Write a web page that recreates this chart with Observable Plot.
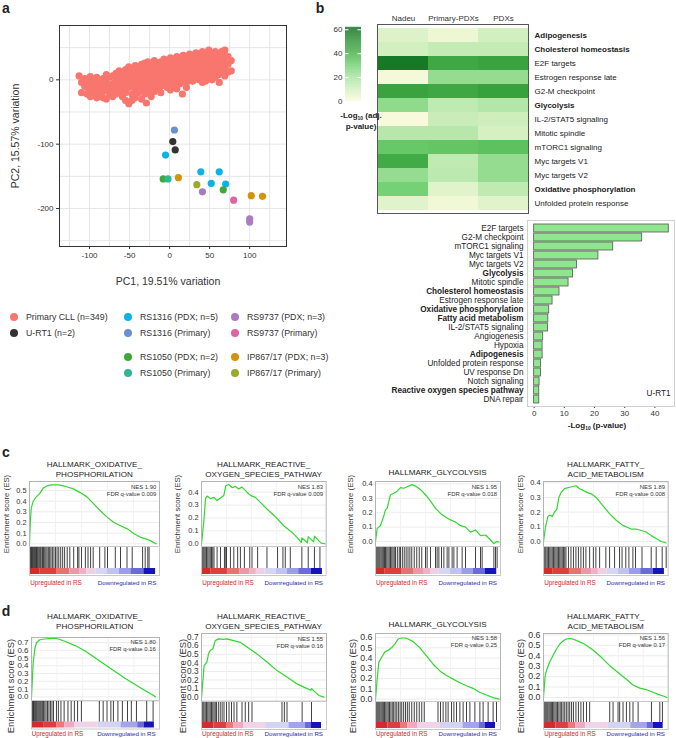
<!DOCTYPE html>
<html><head><meta charset="utf-8">
<script src="https://cdn.jsdelivr.net/npm/d3@7"></script>
<script src="https://cdn.jsdelivr.net/npm/@observablehq/plot@0.6"></script>
<style>
body{margin:0;background:#fff;}
#fig{position:relative;width:676px;height:738px;overflow:hidden;background:#fff;font-family:"Liberation Sans",Arial,Helvetica,sans-serif;color:#222;}
.t{position:absolute;white-space:nowrap;line-height:1;}
.t sub{font-size:0.62em;vertical-align:-0.25em;}
</style></head><body><div id="fig"></div>
<script>
// ---------------- DATA ----------------
// Panel a: PCA
const pcaGroups = ["Primary CLL (n=349)","U-RT1 (n=2)","RS1316 (PDX; n=5)","RS1316 (Primary)","RS9737 (PDX; n=3)","RS9737 (Primary)","RS1050 (PDX; n=2)","RS1050 (Primary)","IP867/17 (PDX; n=3)","IP867/17 (Primary)"];
const pcaColors = ["#f8766d","#333333","#0db3e6","#6a8fd2","#a97cc2","#df64a6","#3ea83a","#2fb696","#d5920c","#9aab2c"];
const pcaXTicks = [-100,-50,0,50,100];
const pcaYTicks = [-200,-100,0];
const cllPoints = [[-113,6],[-110,-4],[-110,-20],[-106,-10],[-106,2],[-103,-22],[-103,-12],[-103,-2],
[-99,-18],[-99,-6],[-99,5],[-99,-26],[-95,-12],[-95,0],[-95,-24],
[-91,-8],[-91,4],[-91,-20],[-91,-28],[-87,-14],[-87,-2],[-87,-24],
[-83,-18],[-83,-8],[-83,2],[-83,-28],[-79,8],[-79,-4],[-79,-14],[-79,-30],
[-75,-22],[-75,-10],[-75,4],[-71,-6],[-71,6],[-71,-16],[-71,-26],
[-67,-2],[-67,-12],[-67,10],[-67,-22],[-63,4],[-63,-8],[-63,-18],[-63,14],
[-59,10],[-59,-2],[-59,-14],[-59,-26],[-55,16],[-55,4],[-55,-6],[-55,-20],[-55,-32],
[-51,20],[-51,8],[-51,-2],[-51,-12],[-51,-37],[-47,18],[-47,10],[-47,0],[-47,-10],[-47,-22],[-47,-32],
[-43,22],[-43,14],[-43,4],[-43,-6],[-43,-16],[-43,-28],[-39,20],[-39,12],[-39,2],[-39,-8],[-39,-20],
[-35,24],[-35,16],[-35,6],[-35,-4],[-35,-14],[-35,-30],[-31,26],[-31,18],[-31,8],[-31,-2],[-31,-12],[-31,-22],[-29,-36],
[-27,28],[-27,20],[-27,10],[-27,0],[-27,-10],[-27,-20],[-23,24],[-23,14],[-23,4],[-23,-6],[-23,-16],[-23,-26],
[-19,30],[-19,22],[-19,12],[-19,2],[-19,-8],[-19,-18],[-15,26],[-15,16],[-15,6],[-15,-4],[-15,-14],
[-11,28],[-11,20],[-11,10],[-11,0],[-11,-10],[-11,-20],[-7,32],[-7,22],[-7,12],[-7,2],[-7,-8],
[-3,30],[-3,20],[-3,10],[-3,0],[-3,-12],[1,34],[1,24],[1,14],[1,4],[1,-6],[1,-16],
[5,32],[5,22],[5,12],[5,2],[5,-8],[9,36],[9,26],[9,16],[9,6],[9,-4],[9,-14],
[13,34],[13,24],[13,14],[13,4],[13,-6],[16,-22],[17,38],[17,28],[17,18],[17,8],[17,-2],
[21,36],[21,26],[21,16],[21,6],[21,-4],[21,-12],[25,40],[25,30],[25,20],[25,10],[25,0],
[29,38],[29,28],[29,18],[29,8],[29,-2],[33,42],[33,32],[33,22],[33,12],[33,2],
[37,40],[37,30],[37,20],[37,10],[37,0],[41,44],[41,34],[41,24],[41,14],[41,4],[41,-4],
[45,38],[45,28],[45,18],[45,8],[45,-2],[49,46],[49,36],[49,26],[49,16],[49,6],
[53,40],[53,30],[53,20],[53,10],[53,0],[57,44],[57,34],[57,24],[57,14],[57,4],
[61,38],[61,28],[61,18],[61,8],[62,-4],[65,44],[65,32],[65,22],[65,12],[69,46],[69,36],[69,26],[69,16],[69,6],
[73,36],[73,24],[73,12],[77,30],[77,14]];
const otherGroup = [1,1,2,2,2,2,2,3,4,4,4,5,6,6,7,8,8,8,9];
const otherPC1  = [4,7,-5,39,52,62,70,6,41,100,100,80,-8,67,-2,11,102,116,34];
const otherPC2  = [-96,-109,-117,-143,-161,-143,-162,-78,-174,-216,-221,-187,-154,-171,-154,-152,-180,-181,-163];

// Panel b: heatmap
const hmCols = ["Nadeu","Primary-PDXs","PDXs"];
const hmRows = ["Adipogenesis","Cholesterol homeostasis","E2F targets","Estrogen response late","G2-M checkpoint","Glycolysis","IL-2/STAT5 signaling","Mitotic spindle","mTORC1 signaling","Myc targets V1","Myc targets V2","Oxidative phosphorylation","Unfolded protein response"];
const hmBold = ["Adipogenesis","Cholesterol homeostasis","Glycolysis","Oxidative phosphorylation"];
const hmNadeu      = [7,10,57,1,44,24,0,16,32,41,23,29,6];
const hmPrimaryPDX = [3,13,42,23,42,14,12,16,33,14,15,6,2];
const hmPDX        = [10,13,44,23,45,17,11,9,34,23,23,14,6];
const hmLegendTicks = [0,20,40,60];

// Panel b: U-RT1 bars
const urtLabels = ["E2F targets","G2-M checkpoint","mTORC1 signaling","Myc targets V1","Myc targets V2","Glycolysis","Mitotic spindle","Cholesterol homeostasis","Estrogen response late","Oxidative phosphorylation","Fatty acid metabolism","IL-2/STAT5 signaling","Angiogenesis","Hypoxia","Adipogenesis","Unfolded protein response","UV response Dn","Notch signaling","Reactive oxygen species pathway","DNA repair"];
const urtValues = [44.6,35.8,26.2,21.3,14.2,12.9,11.4,8.4,6.1,5.0,4.7,4.6,3.0,2.8,2.8,2.3,2.3,1.8,1.7,1.7];
const urtBold = ["Glycolysis","Cholesterol homeostasis","Oxidative phosphorylation","Fatty acid metabolism","Adipogenesis","Reactive oxygen species pathway"];
const urtTicks = [0,10,20,30,40];

// Panels c, d: GSEA
const gseaTitles = [["HALLMARK_OXIDATIVE_","PHOSPHORILATION"],["HALLMARK_REACTIVE_","OXYGEN_SPECIES_PATHWAY"],["HALLMARK_GLYCOLYSIS"],["HALLMARK_FATTY_","ACID_METABOLISM"],
                    ["HALLMARK_OXIDATIVE_","PHOSPHORILATION"],["HALLMARK_REACTIVE_","OXYGEN_SPECIES_PATHWAY"],["HALLMARK_GLYCOLYSIS"],["HALLMARK_FATTY_","ACID_METABOLISM"]];
const gseaNES = ["1.90","1.83","1.95","1.89","1.80","1.55","1.58","1.56"];
const gseaFDR = ["0.009","0.009","0.018","0.008","0.16","0.16","0.25","0.17"];
const esC1 = [[0,0],[0.006,0.2],[0.013,0.33],[0.026,0.39],[0.04,0.42],[0.052,0.44],[0.078,0.47],[0.104,0.52],[0.13,0.54],[0.156,0.55],[0.18,0.552],[0.21,0.553],[0.234,0.55],[0.26,0.543],[0.286,0.535],[0.338,0.515],[0.39,0.48],[0.442,0.44],[0.494,0.375],[0.545,0.31],[0.597,0.25],[0.649,0.2],[0.701,0.17],[0.753,0.14],[0.805,0.094],[0.857,0.06],[0.909,0.04],[0.93,0.03],[0.948,0.016],[0.974,0]];
const esC2 = [[0,0],[0.019,0.18],[0.032,0.35],[0.045,0.37],[0.072,0.35],[0.099,0.36],[0.125,0.335],[0.152,0.355],[0.179,0.375],[0.195,0.45],[0.219,0.46],[0.245,0.435],[0.272,0.445],[0.299,0.425],[0.325,0.44],[0.365,0.4],[0.392,0.375],[0.432,0.36],[0.459,0.335],[0.525,0.27],[0.592,0.21],[0.659,0.14],[0.725,0.09],[0.775,0.04],[0.8,0.01],[0.805,0.045],[0.85,0.008],[0.856,0.055],[0.9,0.015],[0.906,0.06],[0.95,0.015],[0.96,0.005],[0.99,0]];
const esC3 = [[0,0],[0.013,0.09],[0.04,0.11],[0.067,0.18],[0.08,0.22],[0.093,0.23],[0.107,0.28],[0.12,0.325],[0.147,0.335],[0.173,0.35],[0.2,0.375],[0.227,0.37],[0.253,0.38],[0.28,0.39],[0.293,0.395],[0.32,0.385],[0.36,0.36],[0.4,0.325],[0.44,0.28],[0.48,0.23],[0.52,0.195],[0.56,0.17],[0.6,0.15],[0.64,0.135],[0.68,0.11],[0.72,0.1],[0.76,0.065],[0.8,0.08],[0.84,0.04],[0.88,0.045],[0.92,0.01],[0.947,-0.015],[0.973,0],[0.987,-0.005]];
const esC4 = [[0,0],[0.016,0.1],[0.035,0.17],[0.053,0.18],[0.07,0.17],[0.088,0.2],[0.107,0.22],[0.123,0.3],[0.142,0.335],[0.168,0.36],[0.209,0.37],[0.241,0.375],[0.262,0.38],[0.289,0.36],[0.316,0.35],[0.348,0.335],[0.382,0.325],[0.422,0.3],[0.476,0.245],[0.529,0.19],[0.583,0.145],[0.636,0.11],[0.676,0.095],[0.703,0.085],[0.743,0.085],[0.783,0.075],[0.824,0.065],[0.864,0.04],[0.904,0.02],[0.944,0],[0.984,-0.01]];
const esD1 = [[0,0],[0.013,0.44],[0.026,0.62],[0.04,0.7],[0.065,0.735],[0.1,0.745],[0.14,0.75],[0.18,0.755],[0.21,0.745],[0.26,0.715],[0.34,0.66],[0.42,0.59],[0.49,0.51],[0.57,0.42],[0.65,0.33],[0.73,0.24],[0.81,0.16],[0.88,0.09],[0.95,0.02],[0.97,0]];
const esD2 = [[0,0],[0.011,0.19],[0.021,0.37],[0.043,0.41],[0.056,0.505],[0.07,0.545],[0.091,0.565],[0.11,0.66],[0.136,0.68],[0.176,0.675],[0.203,0.68],[0.257,0.66],[0.31,0.64],[0.364,0.585],[0.444,0.505],[0.524,0.41],[0.604,0.31],[0.684,0.235],[0.765,0.155],[0.818,0.117],[0.875,0.08],[0.882,0.1],[0.9,0.07],[0.94,0.02],[0.98,0]];
const esD3 = [[0,0],[0.013,0.19],[0.027,0.36],[0.048,0.405],[0.075,0.46],[0.101,0.475],[0.128,0.5],[0.155,0.535],[0.181,0.585],[0.208,0.595],[0.235,0.595],[0.261,0.585],[0.301,0.56],[0.355,0.5],[0.408,0.42],[0.461,0.34],[0.515,0.275],[0.568,0.23],[0.621,0.195],[0.675,0.16],[0.728,0.13],[0.781,0.105],[0.835,0.065],[0.888,0.04],[0.941,0.015],[0.99,0]];
const esD4 = [[0,0],[0.013,0.21],[0.027,0.27],[0.048,0.335],[0.075,0.4],[0.102,0.46],[0.129,0.51],[0.155,0.54],[0.182,0.56],[0.209,0.565],[0.236,0.56],[0.276,0.54],[0.33,0.51],[0.397,0.455],[0.464,0.385],[0.531,0.305],[0.598,0.24],[0.665,0.175],[0.718,0.12],[0.772,0.09],[0.826,0.075],[0.879,0.05],[0.919,0.03],[0.96,0.015],[0.99,0]];
const hitsC1 = [0.004,0.01,0.016,0.022,0.028,0.034,0.04,0.047,0.054,0.06,0.067,0.075,0.083,0.09,0.1,0.108,0.117,0.126,0.135,0.145,0.155,0.165,0.176,0.188,0.2,0.212,0.225,0.24,0.255,0.27,0.29,0.31,0.34,0.37,0.38,0.4,0.43,0.45,0.47,0.49,0.54,0.58,0.6,0.66,0.7,0.75,0.79,0.87,0.89,0.91,0.92];
const hitsC2 = [0.005,0.013,0.021,0.03,0.04,0.05,0.06,0.07,0.08,0.09,0.1,0.125,0.152,0.184,0.195,0.2,0.232,0.259,0.29,0.312,0.344,0.387,0.405,0.45,0.525,0.61,0.653,0.672,0.712,0.805,0.856,0.906,0.95];
const hitsC3 = [0.004,0.012,0.02,0.028,0.036,0.045,0.054,0.063,0.072,0.08,0.09,0.1,0.11,0.12,0.13,0.14,0.15,0.16,0.175,0.19,0.2,0.215,0.23,0.245,0.26,0.275,0.29,0.31,0.33,0.35,0.37,0.4,0.413,0.44,0.48,0.493,0.507,0.528,0.547,0.573,0.587,0.613,0.627,0.653,0.693,0.72,0.8,0.84,0.853,0.947,0.96,0.973];
const hitsC4 = [0.004,0.012,0.02,0.03,0.04,0.05,0.06,0.07,0.08,0.09,0.1,0.11,0.12,0.13,0.14,0.15,0.16,0.17,0.18,0.2,0.22,0.24,0.26,0.28,0.3,0.32,0.34,0.37,0.4,0.42,0.45,0.5,0.53,0.57,0.61,0.63,0.66,0.685,0.717,0.738,0.79,0.864,0.904,0.952,0.984];
const hitsD1 = [0.004,0.01,0.016,0.022,0.03,0.037,0.044,0.052,0.06,0.068,0.076,0.085,0.094,0.104,0.114,0.125,0.136,0.148,0.16,0.172,0.195,0.21,0.23,0.255,0.285,0.31,0.335,0.36,0.39,0.53,0.56,0.59,0.62,0.64,0.675,0.71,0.75,0.78,0.82,0.9,0.95];
const hitsD2 = [0.004,0.012,0.02,0.03,0.04,0.05,0.06,0.07,0.08,0.09,0.1,0.11,0.12,0.135,0.15,0.165,0.18,0.2,0.22,0.24,0.26,0.283,0.324,0.35,0.377,0.404,0.644,0.663,0.684,0.805,0.88];
const hitsD3 = [0.004,0.012,0.02,0.028,0.036,0.045,0.054,0.063,0.072,0.082,0.092,0.102,0.112,0.123,0.134,0.145,0.157,0.17,0.183,0.197,0.21,0.225,0.24,0.255,0.27,0.29,0.31,0.33,0.35,0.37,0.39,0.5,0.52,0.541,0.563,0.581,0.608,0.627,0.648,0.675,0.701,0.728,0.755,0.795,0.835,0.861,0.901,0.941,0.968];
const hitsD4 = [0.004,0.012,0.02,0.028,0.036,0.045,0.054,0.063,0.072,0.082,0.092,0.102,0.112,0.123,0.134,0.145,0.157,0.17,0.183,0.197,0.21,0.225,0.24,0.26,0.28,0.3,0.32,0.345,0.37,0.531,0.558,0.598,0.611,0.638,0.665,0.692,0.718,0.759,0.866,0.933,0.954];
// ranked-list metric bars (segment starts/ends and metric value)
const rankC   = [0,0.078,0.208,0.31,0.39,0.44,0.51,0.6,0.69,0.78,0.88,0.97];
const metricC = [2.8,2.3,1.6,1.0,0.6,0.2,-0.3,-0.6,-1.1,-1.7,-2.8];
const rankD   = [0,0.1,0.2,0.26,0.34,0.52,0.7,0.83,0.88,0.96];
const metricD = [2.8,2.3,1.5,0.7,0.15,-0.35,-1.0,-1.7,-2.8];

// ---------------- HELPERS ----------------
const fig = document.getElementById("fig");
const FONT = '"Liberation Sans", Arial, Helvetica, sans-serif';
function place(node, left, top){const d=document.createElement("div");d.style.position="absolute";d.style.left=left+"px";d.style.top=top+"px";d.style.lineHeight="0";d.appendChild(node);fig.appendChild(d);return d;}
function label(html,x,y,o={}){const s=document.createElement("div");s.className="t";s.innerHTML=html;s.style.left=x+"px";s.style.top=y+"px";s.style.fontSize=(o.size||8)+"px";if(o.bold)s.style.fontWeight="bold";s.style.color=o.color||"#222";const ax=o.anchor==="start"?"0%":o.anchor==="end"?"-100%":"-50%";s.style.transform=`translate(${ax},-50%)`+(o.rotate?` rotate(${o.rotate}deg)`:"");fig.appendChild(s);return s;}
const style = (sz)=>({fontFamily:FONT,fontSize:sz+"px",color:"#333",background:"transparent",overflow:"visible"});

// ---------------- PANEL LETTERS ----------------
label("a",6,8,{size:14,bold:true});
label("b",320,8,{size:14,bold:true});
label("c",6,452,{size:14,bold:true});
label("d",6,611,{size:14,bold:true});

// ---------------- PANEL a ----------------
const others = otherGroup.map((g,i)=>({g,x:otherPC1[i],y:otherPC2[i]}));
place(Plot.plot({
  width:300,height:300,marginLeft:59,marginRight:14,marginTop:25,marginBottom:54,style:style(8),
  x:{domain:[-137.5,146],ticks:pcaXTicks,tickSize:3,tickPadding:3,tickFormat:d=>String(d),label:null},
  y:{domain:[-259,84.4],ticks:pcaYTicks,tickSize:3,tickPadding:3,tickFormat:d=>String(d),label:null},
  marks:[
    Plot.ruleX(d3.range(-125,126,25),{stroke:"#e6e6e6"}),
    Plot.ruleY(d3.range(-250,51,50),{stroke:"#e6e6e6"}),
    Plot.dot(cllPoints,{x:d=>d[0],y:d=>d[1],r:3.6,fill:pcaColors[0]}),
    Plot.dot(others,{x:"x",y:"y",r:3.6,fill:d=>pcaColors[d.g]}),
    Plot.frame({stroke:"#333"})
  ]}),0,0);
label("PC1, 19.51% variation",168,281,{size:10.5,color:"#333"});
label("PC2, 15.57% variation",15,136,{size:10.5,color:"#333",rotate:-90});
// legend
const legCol=[0,0,1,1,2,2,1,1,2,2], legRow=[0,1,0,1,0,1,2,3,2,3];
const colX=[14,128,235], rowY=[317,333,357,373];
pcaGroups.forEach((g,i)=>{
  const dot=document.createElement("div");
  Object.assign(dot.style,{position:"absolute",width:"8px",height:"8px",borderRadius:"50%",background:pcaColors[i],left:(colX[legCol[i]]-4)+"px",top:(rowY[legRow[i]]-4)+"px"});
  fig.appendChild(dot);
  label(g,colX[legCol[i]]+12,rowY[legRow[i]],{size:8.8,anchor:"start",color:"#333"});
});

// ---------------- PANEL b heatmap ----------------
const hmColor = d3.scaleLinear().domain([0,10,20,30,40,50,60]).range(["#f8fadc","#d2efbf","#a6e29e","#70cf70","#44ad48","#2a9434","#0e6e20"]).clamp(true);
const hmData = [];
hmRows.forEach((r,i)=>{hmData.push({row:r,col:hmCols[0],v:hmNadeu[i]},{row:r,col:hmCols[1],v:hmPrimaryPDX[i]},{row:r,col:hmCols[2],v:hmPDX[i]});});
place(Plot.plot({
  width:151,height:189,margin:0,style:style(8),
  x:{domain:hmCols,padding:0,axis:"top",tickSize:0,tickPadding:4,label:null},
  y:{domain:hmRows,padding:0,axis:null},
  marks:[
    Plot.cell(hmData,{x:"col",y:"row",fill:d=>hmColor(d.v),inset:0}),
    Plot.frame({stroke:"#555"}),
    Plot.text(hmRows.filter(r=>!hmBold.includes(r)),{y:d=>d,text:d=>d,frameAnchor:"right",textAnchor:"start",dx:6,fontSize:8,fill:"#222"}),
    Plot.text(hmRows.filter(r=>hmBold.includes(r)),{y:d=>d,text:d=>d,frameAnchor:"right",textAnchor:"start",dx:6,fontSize:8,fontWeight:"bold",fill:"#222"})
  ]}),376.7,24);
// colour legend
const ramp = d3.range(0,62,0.5);
place(Plot.plot({
  width:16,height:74,margin:0,style:style(8),
  x:{domain:[0,1],axis:null},
  y:{domain:[0,61.9],ticks:hmLegendTicks,tickSize:0,tickPadding:3,label:null},
  marks:[
    Plot.rect(ramp,{x1:0,x2:1,y1:d=>d,y2:d=>d+0.55,fill:d=>hmColor(d)}),
    Plot.ruleY(hmLegendTicks,{x1:0,x2:0.22,stroke:"white",strokeWidth:1}),
    Plot.ruleY(hmLegendTicks,{x1:0.78,x2:1,stroke:"white",strokeWidth:1})
  ]}),345,27);
label("-Log<sub>10</sub> (adj.",361,117,{size:8,bold:true});
label("p-value)",361,127,{size:8,bold:true});

// ---------------- PANEL b bars ----------------
const urtData = urtLabels.map((l,i)=>({l,v:urtValues[i]}));
place(Plot.plot({
  width:147,height:186,margin:0,style:style(8),
  x:{domain:[-2.2,46.5],ticks:urtTicks,tickSize:2,tickPadding:2,label:null},
  y:{domain:urtLabels,padding:0.14,axis:null},
  marks:[
    Plot.barX(urtData,{x:"v",y:"l",fill:"#90e68e",stroke:"#555",strokeWidth:0.8}),
    Plot.frame({stroke:"#d0d0d0"}),
    Plot.text(urtLabels.filter(l=>!urtBold.includes(l)),{y:d=>d,text:d=>d,frameAnchor:"left",textAnchor:"end",dx:-4,fontSize:8.2,fill:"#222"}),
    Plot.text(urtLabels.filter(l=>urtBold.includes(l)),{y:d=>d,text:d=>d,frameAnchor:"left",textAnchor:"end",dx:-4,fontSize:8.2,fontWeight:"bold",fill:"#222"}),
    Plot.text(["U-RT1"],{text:d=>d,frameAnchor:"bottom-right",dx:-4,dy:-11,fontSize:8.2,fill:"#222"})
  ]}),526.7,220);
label("-Log<sub>10</sub> (p-value)",597,427,{size:8,bold:true});

// ---------------- PANELS c, d (GSEA) ----------------
const rankColor = d3.scaleLinear().domain([-2.8,-1.7,-1.0,-0.35,0,0.3,0.7,1.5,2.2,2.8])
  .range(["#1414b8","#6a6ada","#a4a4ea","#d4d4f2","#ebe0f0","#f0c8dc","#f2a8c0","#e87a7a","#dc4444","#d42c2c"]);
const segC = rankC.slice(0,-1).map((r,i)=>({a:r,b:rankC[i+1],m:metricC[i]}));
const segD = rankD.slice(0,-1).map((r,i)=>({a:r,b:rankD[i+1],m:metricD[i]}));
const layout = [
  {l:29.3,r:159.3,t:481,b:546,hh:29,y:[-0.025,0.584],ticks:[0,0.1,0.2,0.3,0.4,0.5],lx:7,ly:514,ls:7.8,ts:7.4,uy:582.5},
  {l:201.3,r:326,t:481,b:546,hh:29,y:[-0.021,0.483],ticks:[0,0.1,0.2,0.3,0.4],lx:178,ly:514,ls:7.8,ts:7.4,uy:582.5},
  {l:375,r:500,t:481,b:546,hh:29,y:[-0.035,0.417],ticks:[0,0.1,0.2,0.3,0.4],lx:351,ly:514,ls:7.8,ts:7.4,uy:582.5},
  {l:543.3,r:668,t:481,b:546,hh:29,y:[-0.034,0.409],ticks:[0,0.1,0.2,0.3,0.4],lx:521,ly:514,ls:7.8,ts:7.4,uy:582.5},
  {l:30.7,r:158.7,t:636.7,b:700,hh:28.5,y:[-0.05,0.764],ticks:[0,0.1,0.2,0.3,0.4,0.5,0.6,0.7],lx:11,ly:686,ls:9.4,ts:8,uy:734},
  {l:201,r:326,t:633,b:700.7,hh:28,y:[-0.047,0.743],ticks:[0,0.1,0.2,0.3,0.4,0.5,0.6,0.7],lx:183,ly:686,ls:9.4,ts:8.2,uy:734},
  {l:375,r:500,t:632.7,b:700.7,hh:28,y:[-0.023,0.639],ticks:[0,0.1,0.2,0.3,0.4,0.5,0.6],lx:353,ly:686,ls:9.4,ts:8.8,uy:734},
  {l:543.3,r:668,t:632.7,b:700.7,hh:28,y:[-0.038,0.613],ticks:[0,0.1,0.2,0.3,0.4,0.5,0.6],lx:521,ly:686,ls:9.4,ts:8.8,uy:734}
];
const esAll = [esC1,esC2,esC3,esC4,esD1,esD2,esD3,esD4];
const hitsAll = [hitsC1,hitsC2,hitsC3,hitsC4,hitsD1,hitsD2,hitsD3,hitsD4];
layout.forEach((L,i)=>{
  const w=L.r-L.l, h=L.b-L.t;
  place(Plot.plot({
    width:w,height:h,margin:0,style:style(L.ts),
    x:{domain:[0,1],axis:null},
    y:{domain:L.y,ticks:L.ticks,tickSize:0,tickPadding:3,tickFormat:d3.format(".1f"),label:null},
    marks:[
      Plot.ruleY(L.ticks,{stroke:"#ececec"}),
      Plot.ruleX([0.2,0.4,0.6,0.8],{stroke:"#f2f2f2"}),
      Plot.line(esAll[i],{x:d=>d[0],y:d=>d[1],stroke:"#2ed82e",strokeWidth:1.2}),
      Plot.frame({stroke:"#b4b4b4"})
    ]}),L.l,L.t);
  const seg = i<4?segC:segD;
  place(Plot.plot({
    width:w,height:L.hh,margin:0,style:style(8),
    x:{domain:[0,1],axis:null},
    marks:[
      Plot.rect(seg,{x1:"a",x2:"b",fill:d=>rankColor(d.m),insetTop:L.hh-7,insetBottom:1}),
      Plot.ruleX(hitsAll[i],{x:d=>d,stroke:"#111",strokeWidth:0.8,insetBottom:7}),
      Plot.frame({stroke:"#c8c8c8"})
    ]}),L.l,L.b);
  const cx=(L.l+L.r)/2;
  const titles=gseaTitles[i];
  if(titles.length===2){
    const y0 = i<4?464.5:617;
    label(titles[0],cx,y0,{size:8.1});
    label(titles[1],cx,y0+10,{size:8.1});
  } else {
    label(titles[0],cx,i<4?472.7:625,{size:8.1});
  }
  label("NES "+gseaNES[i],L.r-3,L.t+6.5,{size:5.9,anchor:"end",color:"#333"});
  label("FDR q-value "+gseaFDR[i],L.r-3,L.t+13.5,{size:5.9,anchor:"end",color:"#333"});
  label("Upregulated in RS",L.l+1,L.uy,{size:6.3,anchor:"start",color:"#cc2a2a"});
  label("Downregulated in RS",L.r-3,L.uy,{size:6.2,anchor:"end",color:"#2a2aaa"});
  label("Enrichment score (ES)",L.lx,L.ly,{size:L.ls,rotate:-90,color:"#333"});
});
</script></body></html>
